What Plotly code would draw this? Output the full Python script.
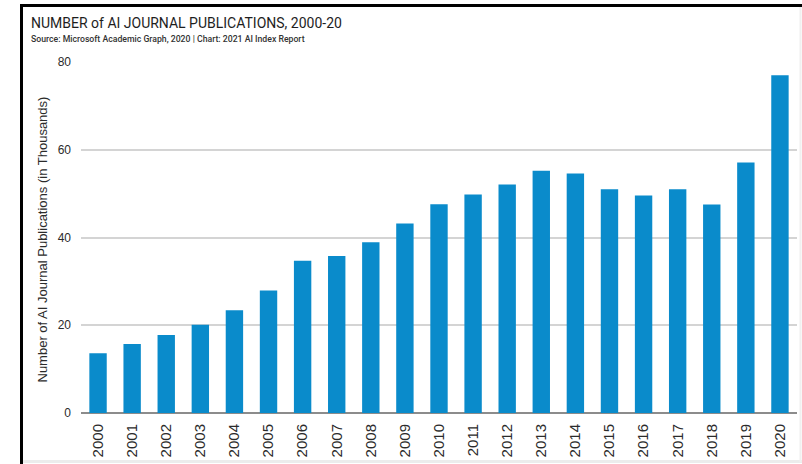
import plotly.graph_objects as go

# Annual AI journal publications, in thousands
years = [str(y) for y in range(2000, 2021)]
publications = [13.6, 15.7, 17.8, 20.1, 23.4, 27.9, 34.7, 35.8, 38.9, 43.2,
                47.6, 49.8, 52.1, 55.2, 54.6, 51.0, 49.6, 51.0, 47.5, 57.1, 77.0]
y_ticks = [0, 20, 40, 60, 80]

title_text = "NUMBER of AI JOURNAL PUBLICATIONS, 2000-20"
subtitle_text = "Source: Microsoft Academic Graph, 2020 | Chart: 2021 AI Index Report"
y_title = "Number of AI Journal Publications (in Thousands)"

W, H = 802, 464
L, R, T, B = 81, 797, 62, 413  # plot area in pixels


def px_x(x):
    return (x - L) / (R - L)


def px_y(y):
    return (B - y) / (B - T)


BAR = "#0a8bcb"
TXT = "#2b2b2b"
HEAD_FONT = "Roboto, Liberation Sans, sans-serif"
BODY_FONT = "Liberation Sans, Roboto, sans-serif"

fig = go.Figure(
    go.Bar(x=years, y=publications, marker=dict(color=BAR, line=dict(width=0)),
           hoverinfo="x+y")
)

fig.update_layout(
    width=W, height=H,
    margin=dict(l=L, r=W - R, t=T, b=H - B),
    paper_bgcolor="white", plot_bgcolor="white",
    bargap=0.49,
    showlegend=False,
    font=dict(family=BODY_FONT, color=TXT),
    xaxis=dict(
        type="category", tickangle=-90, showgrid=False, showline=False,
        ticks="", ticklabelstandoff=7,
        tickfont=dict(size=15, color=TXT, family=BODY_FONT),
    ),
    yaxis=dict(
        range=[0, 80], tickvals=y_ticks, ticktext=[str(v) for v in y_ticks],
        showgrid=True, gridcolor="#d4d4d4", gridwidth=1.5,
        zeroline=True, zerolinecolor="#8c8c8c", zerolinewidth=2,
        showline=False, ticks="", ticklabelstandoff=9,
        tickfont=dict(size=12, color=TXT, family=BODY_FONT),
    ),
)

fig.add_annotation(
    text=title_text, xref="paper", yref="paper",
    x=px_x(29), y=px_y(22.5), xanchor="left", yanchor="middle",
    showarrow=False, font=dict(size=14, color="#1e1e1e", family=HEAD_FONT),
)
fig.add_annotation(
    text=subtitle_text, xref="paper", yref="paper",
    x=px_x(29), y=px_y(39), xanchor="left", yanchor="middle",
    showarrow=False, font=dict(size=8.7, color="#333333", family=HEAD_FONT, weight=500),
)
fig.add_annotation(
    text=y_title, xref="paper", yref="paper",
    x=px_x(41.5), y=px_y(240), xanchor="center", yanchor="middle",
    textangle=-90, showarrow=False,
    font=dict(size=13, color=TXT, family=BODY_FONT),
)

# Frame lines: dark on the left and top, faint on the right and bottom
fig.add_shape(type="line", xref="paper", yref="paper",
              x0=px_x(21.5), x1=px_x(21.5), y0=px_y(4), y1=px_y(470),
              line=dict(color="black", width=3))
fig.add_shape(type="line", xref="paper", yref="paper",
              x0=px_x(20), x1=px_x(810), y0=px_y(5.5), y1=px_y(5.5),
              line=dict(color="black", width=3))
fig.add_shape(type="line", xref="paper", yref="paper",
              x0=px_x(23), x1=px_x(802), y0=px_y(461.5), y1=px_y(461.5),
              line=dict(color="#ececec", width=3))
fig.add_shape(type="line", xref="paper", yref="paper",
              x0=px_x(800.5), x1=px_x(800.5), y0=px_y(7), y1=px_y(462),
              line=dict(color="#f0f0f0", width=2))

fig.write_html("out.html")
